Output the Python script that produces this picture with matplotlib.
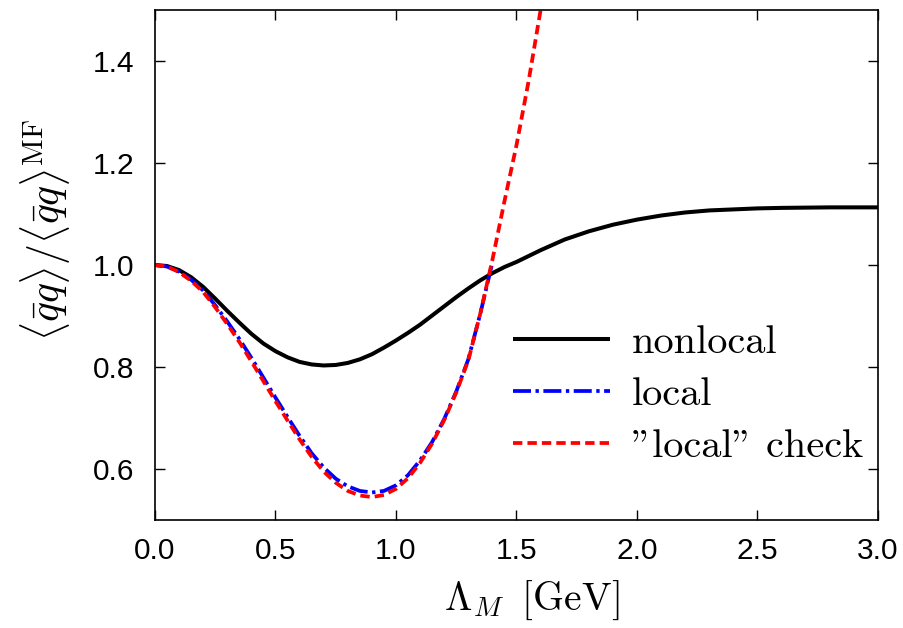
import matplotlib
matplotlib.use("Agg")
import matplotlib.pyplot as plt

plt.rcParams["mathtext.fontset"] = "cm"

# Chiral condensate ratio vs. cutoff Lambda_M [GeV]
lam_nonlocal = [0.00, 0.05, 0.10, 0.15, 0.20, 0.25, 0.30, 0.35, 0.40, 0.45,
                0.50, 0.55, 0.60, 0.65, 0.70, 0.75, 0.80, 0.85, 0.90, 0.95,
                1.00, 1.05, 1.10, 1.15, 1.20, 1.25, 1.30, 1.35, 1.40, 1.45,
                1.50, 1.60, 1.70, 1.80, 1.90, 2.00, 2.10, 2.20, 2.30, 2.40,
                2.50, 2.60, 2.80, 3.00]
cond_nonlocal = [1.000, 0.998, 0.990, 0.976, 0.957, 0.934, 0.910, 0.887, 0.865, 0.846,
                 0.831, 0.819, 0.810, 0.805, 0.803, 0.804, 0.808, 0.815, 0.825, 0.838,
                 0.852, 0.867, 0.883, 0.901, 0.919, 0.937, 0.954, 0.970, 0.984, 0.996,
                 1.006, 1.029, 1.050, 1.066, 1.079, 1.089, 1.097, 1.103, 1.107, 1.109,
                 1.111, 1.112, 1.113, 1.113]

lam_local = [0.00, 0.05, 0.10, 0.15, 0.20, 0.25, 0.30, 0.35, 0.40, 0.45,
             0.50, 0.55, 0.60, 0.65, 0.70, 0.75, 0.80, 0.85, 0.90, 0.95,
             1.00, 1.05, 1.10, 1.15, 1.20, 1.25, 1.30, 1.35, 1.40]
cond_local = [1.000, 0.997, 0.987, 0.971, 0.950, 0.921, 0.889, 0.855, 0.818, 0.779,
              0.740, 0.702, 0.665, 0.631, 0.603, 0.581, 0.566, 0.557, 0.554, 0.557,
              0.568, 0.588, 0.617, 0.653, 0.698, 0.752, 0.815, 0.905, 1.005]

lam_check = [0.00, 0.05, 0.10, 0.15, 0.20, 0.25, 0.30, 0.35, 0.40, 0.45,
             0.50, 0.55, 0.60, 0.65, 0.70, 0.75, 0.80, 0.85, 0.90, 0.95,
             1.00, 1.05, 1.10, 1.15, 1.20, 1.25, 1.30, 1.35, 1.40, 1.45,
             1.50, 1.55, 1.60, 1.65]
cond_check = [1.000, 0.997, 0.986, 0.969, 0.947, 0.917, 0.884, 0.849, 0.811, 0.772,
              0.733, 0.695, 0.658, 0.624, 0.595, 0.573, 0.557, 0.548, 0.545, 0.549,
              0.561, 0.582, 0.612, 0.650, 0.696, 0.750, 0.813, 0.905, 1.010, 1.125,
              1.235, 1.360, 1.500, 1.650]

labels = ["nonlocal", "local", '"local" check']
xticks = [0.0, 0.5, 1.0, 1.5, 2.0, 2.5, 3.0]
yticks = [0.6, 0.8, 1.0, 1.2, 1.4]

fig = plt.figure(figsize=(9.04, 6.28), dpi=100)
ax = fig.add_axes([155 / 904, 108 / 628, 723 / 904, 510 / 628])

ax.plot(lam_nonlocal, cond_nonlocal, color="black", lw=2.9, label=labels[0],
        solid_capstyle="butt")
ax.plot(lam_local, cond_local, color="#0000ff", lw=2.7, label=labels[1],
        dashes=(4.8, 1.2, 0.9, 1.2))
ax.plot(lam_check, cond_check, color="#ff0000", lw=2.7, label=labels[2],
        dashes=(2.5, 1.35))

ax.set_xlim(0, 3.0)
ax.set_ylim(0.5, 1.5)
ax.set_xticks(xticks)
ax.set_yticks(yticks)
ax.set_xticklabels([f"{t:.1f}" for t in xticks])
ax.set_yticklabels([f"{t:.1f}" for t in yticks])
ax.tick_params(direction="in", length=7, width=1.0, top=True, right=True,
               labelsize=21.5, pad=12)
ax.tick_params(axis="y", pad=15)
for lab in ax.get_xticklabels() + ax.get_yticklabels():
    lab.set_family("Liberation Sans")
for sp in ax.spines.values():
    sp.set_linewidth(1.2)

ax.set_xlabel(r"$\Lambda_M\;\;\mathrm{[GeV]}$", fontsize=28.5, labelpad=10)
ax.xaxis.label.set_x(0.5 + 15 / 723)
ax.set_ylabel(r"$\langle\bar{q}q\rangle/\langle\bar{q}q\rangle^{\mathrm{MF}}$",
              fontsize=30, labelpad=14)
ax.yaxis.label.set_y(0.5 + 35 / 510)

leg = ax.legend(loc="center left", bbox_to_anchor=(0.495, 0.245), frameon=False,
                prop={"family": ["cmr10", "DejaVu Serif"], "size": 29},
                handlelength=2.4, handletextpad=0.55, labelspacing=0.4,
                borderpad=0, borderaxespad=0)

fig.savefig("out.png", dpi=100)
